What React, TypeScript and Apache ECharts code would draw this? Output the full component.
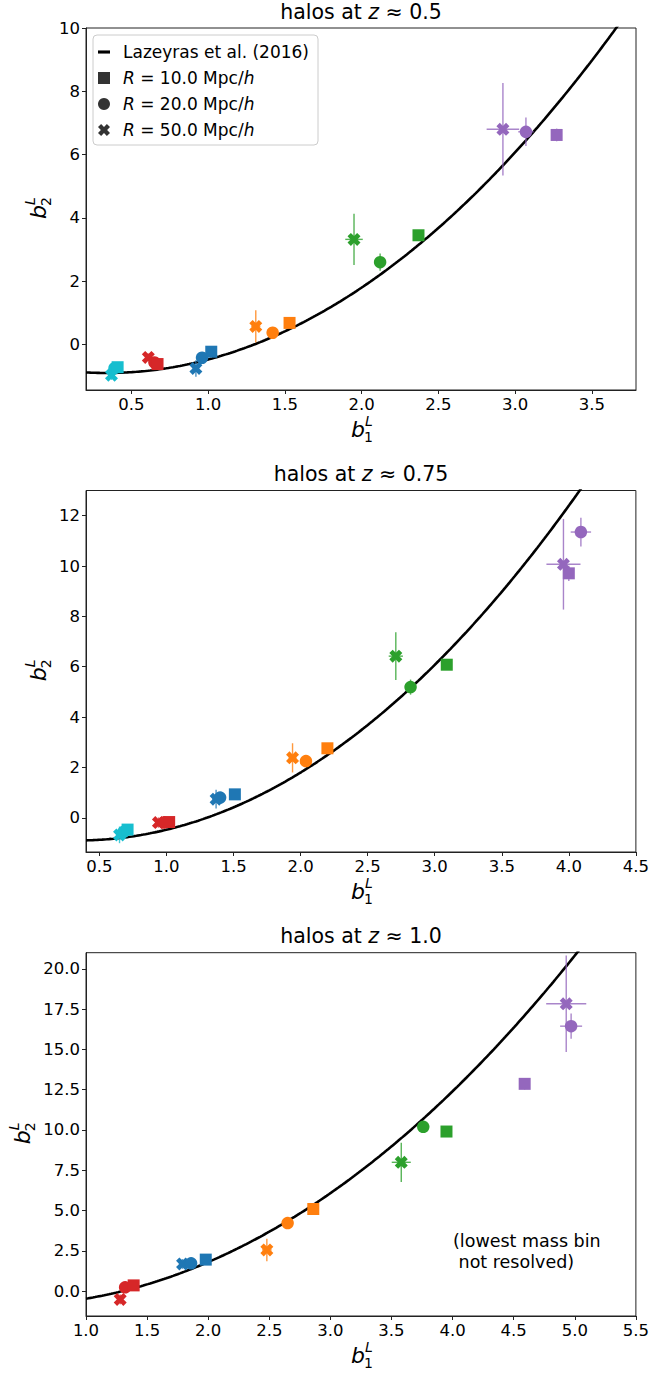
import React, { useEffect, useRef } from 'react';
import * as echarts from 'echarts';

const FONT = 'DejaVu Sans';
const BIN_COLORS = ['#17becf', '#d62728', '#1f77b4', '#ff7f0e', '#2ca02c', '#9467bd'];

// Lazeyras et al. (2016) fit coefficients: b2E = c0 + c1 b1E + c2 b1E^2 + c3 b1E^3
const LAZEYRAS_COEF = [0.412, -2.143, 0.929, 0.008];

// ---------- Panel 1: halos at z ~ 0.5 ----------
const P1_BINS = [0, 1, 2, 3, 4, 5];
const P1_R10_B1 = [0.41, 0.67, 1.02, 1.53, 2.37, 3.27];
const P1_R10_B2 = [-0.72, -0.62, -0.23, 0.68, 3.45, 6.62];
const P1_R10_XERR = [0.005, 0.005, 0.01, 0.01, 0.015, 0.02];
const P1_R10_YERR = [0.03, 0.03, 0.04, 0.06, 0.1, 0.2];
const P1_R20_B1 = [0.39, 0.65, 0.96, 1.42, 2.12, 3.07];
const P1_R20_B2 = [-0.75, -0.57, -0.42, 0.37, 2.6, 6.72];
const P1_R20_XERR = [0.01, 0.01, 0.01, 0.02, 0.02, 0.05];
const P1_R20_YERR = [0.05, 0.05, 0.08, 0.1, 0.27, 0.45];
const P1_R50_B1 = [0.37, 0.61, 0.92, 1.31, 1.95, 2.92];
const P1_R50_B2 = [-0.97, -0.41, -0.76, 0.57, 3.32, 6.8];
const P1_R50_XERR = [0.01, 0.02, 0.02, 0.03, 0.057, 0.106];
const P1_R50_YERR = [0.15, 0.12, 0.26, 0.51, 0.81, 1.46];
const P1_XRANGE = [0.204, 3.787];
const P1_YRANGE = [-1.44, 10];
const P1_XTICKS = [0.5, 1.0, 1.5, 2.0, 2.5, 3.0, 3.5];
const P1_YTICKS = [0, 2, 4, 6, 8, 10];

// ---------- Panel 2: halos at z ~ 0.75 ----------
const P2_BINS = [0, 1, 2, 3, 4, 5];
const P2_R10_B1 = [0.71, 1.02, 1.51, 2.2, 3.09, 4.0];
const P2_R10_B2 = [-0.47, -0.17, 0.93, 2.76, 6.08, 9.71];
const P2_R10_XERR = [0.005, 0.005, 0.01, 0.01, 0.015, 0.03];
const P2_R10_YERR = [0.04, 0.04, 0.05, 0.08, 0.15, 0.3];
const P2_R20_B1 = [0.68, 0.98, 1.4, 2.04, 2.82, 4.09];
const P2_R20_B2 = [-0.56, -0.19, 0.8, 2.25, 5.19, 11.35];
const P2_R20_XERR = [0.01, 0.01, 0.015, 0.02, 0.03, 0.076];
const P2_R20_YERR = [0.08, 0.06, 0.1, 0.15, 0.3, 0.57];
const P2_R50_B1 = [0.65, 0.94, 1.37, 1.94, 2.71, 3.96];
const P2_R50_B2 = [-0.68, -0.19, 0.74, 2.38, 6.42, 10.07];
const P2_R50_XERR = [0.02, 0.02, 0.03, 0.03, 0.053, 0.127];
const P2_R50_YERR = [0.33, 0.2, 0.37, 0.58, 0.95, 1.8];
const P2_XRANGE = [0.4, 4.5];
const P2_YRANGE = [-1.36, 13];
const P2_XTICKS = [0.5, 1.0, 1.5, 2.0, 2.5, 3.0, 3.5, 4.0, 4.5];
const P2_YTICKS = [0, 2, 4, 6, 8, 10, 12];

// ---------- Panel 3: halos at z ~ 1.0 (no lowest-mass bin) ----------
const P3_BINS = [1, 2, 3, 4, 5];
const P3_R10_B1 = [1.39, 1.98, 2.86, 3.95, 4.59];
const P3_R10_B2 = [0.35, 1.95, 5.09, 9.9, 12.86];
const P3_R10_XERR = [0.005, 0.01, 0.01, 0.02, 0.03];
const P3_R10_YERR = [0.05, 0.08, 0.12, 0.2, 0.35];
const P3_R20_B1 = [1.32, 1.86, 2.65, 3.76, 4.97];
const P3_R20_B2 = [0.23, 1.72, 4.22, 10.19, 16.44];
const P3_R20_XERR = [0.01, 0.01, 0.02, 0.03, 0.09];
const P3_R20_YERR = [0.1, 0.15, 0.2, 0.35, 0.78];
const P3_R50_B1 = [1.28, 1.79, 2.48, 3.58, 4.93];
const P3_R50_B2 = [-0.52, 1.68, 2.55, 7.99, 17.83];
const P3_R50_XERR = [0.02, 0.03, 0.04, 0.078, 0.164];
const P3_R50_YERR = [0.3, 0.3, 0.7, 1.22, 3.0];
const P3_XRANGE = [1.0, 5.5];
const P3_YRANGE = [-1.55, 21];
const P3_XTICKS = [1.0, 1.5, 2.0, 2.5, 3.0, 3.5, 4.0, 4.5, 5.0, 5.5];
const P3_YTICKS = [0, 2.5, 5, 7.5, 10, 12.5, 15, 17.5, 20];

const TITLES = ['0.5', '0.75', '1.0'];
const LEGEND_LABELS: Record<string, string> = {
  Lazeyras: 'Lazeyras et al. (2016)',
  R10: '{i|R} = 10.0 Mpc/{i|h}',
  R20: '{i|R} = 20.0 Mpc/{i|h}',
  R50: '{i|R} = 50.0 Mpc/{i|h}',
};

const X_SYMBOL =
  'path://M0,2.6L2.6,0L5,2.4L7.4,0L10,2.6L7.6,5L10,7.4L7.4,10L5,7.6L2.6,10L0,7.4L2.4,5Z';
const DASH_SYMBOL = 'path://M0,0L10,0L10,2.6L0,2.6Z';

// Lagrangian b2 from the Eulerian Lazeyras fit: b1E = b1L + 1, b2E = b2L + 8/21 b1L
function lazeyrasL(b1L: number): number {
  const b1E = b1L + 1;
  let b2E = 0;
  LAZEYRAS_COEF.forEach((c, k) => {
    b2E += c * Math.pow(b1E, k);
  });
  return b2E - (8 / 21) * b1L;
}

const PANELS = [
  {
    bins: P1_BINS,
    r10: [P1_R10_B1, P1_R10_B2, P1_R10_XERR, P1_R10_YERR],
    r20: [P1_R20_B1, P1_R20_B2, P1_R20_XERR, P1_R20_YERR],
    r50: [P1_R50_B1, P1_R50_B2, P1_R50_XERR, P1_R50_YERR],
    xr: P1_XRANGE, yr: P1_YRANGE, xt: P1_XTICKS, yt: P1_YTICKS, ydec: 0, ylabX: 38,
  },
  {
    bins: P2_BINS,
    r10: [P2_R10_B1, P2_R10_B2, P2_R10_XERR, P2_R10_YERR],
    r20: [P2_R20_B1, P2_R20_B2, P2_R20_XERR, P2_R20_YERR],
    r50: [P2_R50_B1, P2_R50_B2, P2_R50_XERR, P2_R50_YERR],
    xr: P2_XRANGE, yr: P2_YRANGE, xt: P2_XTICKS, yt: P2_YTICKS, ydec: 0, ylabX: 38,
  },
  {
    bins: P3_BINS,
    r10: [P3_R10_B1, P3_R10_B2, P3_R10_XERR, P3_R10_YERR],
    r20: [P3_R20_B1, P3_R20_B2, P3_R20_XERR, P3_R20_YERR],
    r50: [P3_R50_B1, P3_R50_B2, P3_R50_XERR, P3_R50_YERR],
    xr: P3_XRANGE, yr: P3_YRANGE, xt: P3_XTICKS, yt: P3_YTICKS, ydec: 1, ylabX: 22,
  },
];

// layout (pixels)
const GRID_LEFT = 86;
const GRID_WIDTH = 550;
const GRID_TOPS = [28, 490.5, 952.7];
const GRID_HEIGHTS = [362, 361.5, 363.3];

function bLabel(cx: number, cy: number, sub: string, rotated: boolean) {
  const main = { font: `italic 22px "${FONT}"`, fill: '#000' };
  const small = { font: `italic 14px "${FONT}"`, fill: '#000' };
  const smallUp = { font: `14px "${FONT}"`, fill: '#000' };
  return {
    type: 'group',
    x: cx,
    y: cy,
    rotation: rotated ? Math.PI / 2 : 0,
    children: [
      { type: 'text', x: -10, y: 0, style: { ...main, text: 'b', textAlign: 'left', textVerticalAlign: 'middle' } },
      { type: 'text', x: 4, y: -8, style: { ...small, text: 'L', textAlign: 'left', textVerticalAlign: 'middle' } },
      { type: 'text', x: 3, y: 8, style: { ...smallUp, text: sub, textAlign: 'left', textVerticalAlign: 'middle' } },
    ],
  };
}

export default function App() {
  const ref = useRef<HTMLDivElement>(null);

  useEffect(() => {
    if (!ref.current) return;
    const chart = echarts.init(ref.current, null, { renderer: 'svg' });

    const grids: any[] = [];
    const xAxes: any[] = [];
    const yAxes: any[] = [];
    const titles: any[] = [];
    const series: any[] = [];
    const graphics: any[] = [];

    PANELS.forEach((p, i) => {
      grids.push({
        left: GRID_LEFT,
        top: GRID_TOPS[i],
        width: GRID_WIDTH,
        height: GRID_HEIGHTS[i],
        show: true,
        borderColor: '#222',
        borderWidth: 1,
        backgroundColor: 'transparent',
      });
      xAxes.push({
        type: 'value',
        gridIndex: i,
        min: p.xr[0],
        max: p.xr[1],
        splitLine: { show: false },
        axisLine: { show: true, onZero: false, lineStyle: { color: '#222', width: 1 } },
        axisTick: { show: true, length: 4, lineStyle: { color: '#222' }, customValues: p.xt },
        axisLabel: {
          customValues: p.xt,
          formatter: (v: number) => v.toFixed(1),
          color: '#000',
          fontFamily: FONT,
          fontSize: 16.5,
          margin: 6,
        },
      });
      yAxes.push({
        type: 'value',
        gridIndex: i,
        min: p.yr[0],
        max: p.yr[1],
        splitLine: { show: false },
        axisLine: { show: true, onZero: false, lineStyle: { color: '#222', width: 1 } },
        axisTick: { show: true, length: 4, lineStyle: { color: '#222' }, customValues: p.yt },
        axisLabel: {
          customValues: p.yt,
          formatter: (v: number) => v.toFixed(p.ydec),
          color: '#000',
          fontFamily: FONT,
          fontSize: 16.5,
          margin: 6,
        },
      });
      titles.push({
        text: `halos at {i|z} ≈ ${TITLES[i]}`,
        left: GRID_LEFT + GRID_WIDTH / 2,
        textAlign: 'center',
        top: GRID_TOPS[i] - 27,
        padding: 0,
        textStyle: {
          fontFamily: FONT,
          fontSize: 20.5,
          fontWeight: 'normal',
          color: '#000',
          rich: { i: { fontFamily: FONT, fontSize: 20.5, fontStyle: 'italic', color: '#000' } },
        },
      });

      // Lazeyras curve
      const curve: number[][] = [];
      const n = 240;
      for (let k = 0; k <= n; k++) {
        const x = p.xr[0] + ((p.xr[1] - p.xr[0]) * k) / n;
        curve.push([x, lazeyrasL(x)]);
      }
      series.push({
        type: 'line',
        name: 'Lazeyras',
        xAxisIndex: i,
        yAxisIndex: i,
        data: curve,
        showSymbol: false,
        symbol: 'none',
        clip: true,
        lineStyle: { color: '#000', width: 2.6 },
        itemStyle: { color: '#000' },
        z: 2,
        silent: true,
      });

      // error bars
      const errData: number[][] = [];
      [p.r10, p.r20, p.r50].forEach((set) => {
        p.bins.forEach((bin, j) => {
          errData.push([set[0][j], set[1][j], set[2][j], set[3][j], bin]);
        });
      });
      series.push({
        type: 'custom',
        name: `err${i}`,
        xAxisIndex: i,
        yAxisIndex: i,
        data: errData,
        encode: { x: 0, y: 1 },
        clip: true,
        z: 3,
        silent: true,
        renderItem: (params: any, api: any) => {
          const x = api.value(0);
          const y = api.value(1);
          const xe = api.value(2);
          const ye = api.value(3);
          const c = BIN_COLORS[api.value(4)];
          const l = api.coord([x - xe, y]);
          const r = api.coord([x + xe, y]);
          const t = api.coord([x, y + ye]);
          const b = api.coord([x, y - ye]);
          const style = { stroke: c, lineWidth: 1.4, opacity: 0.8 };
          return {
            type: 'group',
            children: [
              { type: 'line', shape: { x1: l[0], y1: l[1], x2: r[0], y2: r[1] }, style },
              { type: 'line', shape: { x1: t[0], y1: t[1], x2: b[0], y2: b[1] }, style },
            ],
          };
        },
      });

      const mk = (set: number[][], symbol: string, size: number, nm: string) => ({
        type: 'scatter',
        name: nm,
        xAxisIndex: i,
        yAxisIndex: i,
        symbol,
        symbolSize: size,
        z: 4,
        silent: true,
        data: p.bins.map((bin, j) => ({
          value: [set[0][j], set[1][j]],
          itemStyle: { color: BIN_COLORS[bin], opacity: 1 },
        })),
      });
      series.push(mk(p.r50, X_SYMBOL, 13, `x${i}`));
      series.push(mk(p.r20, 'circle', 12.5, `c${i}`));
      series.push(mk(p.r10, 'rect', 12, `s${i}`));

      const bottom = GRID_TOPS[i] + GRID_HEIGHTS[i];
      graphics.push(bLabel(GRID_LEFT + GRID_WIDTH / 2, bottom + 39, '1', false));
      graphics.push(bLabel(p.ylabX, GRID_TOPS[i] + GRID_HEIGHTS[i] / 2, '2', true));
    });

    // legend dummy series (black markers)
    series.push({ type: 'scatter', name: 'R10', xAxisIndex: 0, yAxisIndex: 0, data: [], symbol: 'rect', itemStyle: { color: '#000' } });
    series.push({ type: 'scatter', name: 'R20', xAxisIndex: 0, yAxisIndex: 0, data: [], symbol: 'circle', itemStyle: { color: '#000' } });
    series.push({ type: 'scatter', name: 'R50', xAxisIndex: 0, yAxisIndex: 0, data: [], symbol: X_SYMBOL, itemStyle: { color: '#000' } });

    graphics.push({
      type: 'text',
      left: 453,
      top: 1230,
      style: {
        text: '(lowest mass bin\n not resolved)',
        font: `17.5px "${FONT}"`,
        fill: '#000',
        lineHeight: 21,
      },
    });

    chart.setOption({
      animation: false,
      backgroundColor: '#fff',
      title: titles,
      grid: grids,
      xAxis: xAxes,
      yAxis: yAxes,
      legend: {
        show: true,
        orient: 'vertical',
        left: 93,
        top: 35,
        padding: [7, 9, 5, 5],
        itemGap: 6,
        itemWidth: 12,
        itemHeight: 12,
        backgroundColor: 'rgba(255,255,255,0.8)',
        borderColor: '#cccccc',
        borderWidth: 1,
        borderRadius: 4,
        selectedMode: false,
        data: [
          { name: 'Lazeyras', icon: DASH_SYMBOL, itemStyle: { color: '#000' } },
          { name: 'R10', icon: 'rect', itemStyle: { color: '#000' } },
          { name: 'R20', icon: 'circle', itemStyle: { color: '#000' } },
          { name: 'R50', icon: X_SYMBOL, itemStyle: { color: '#000' } },
        ],
        formatter: (name: string) => LEGEND_LABELS[name] || name,
        textStyle: {
          fontFamily: FONT,
          fontSize: 17,
          color: '#000',
          lineHeight: 20,
          padding: [0, 0, 0, 8],
          rich: { i: { fontFamily: FONT, fontSize: 17, fontStyle: 'italic', color: '#000' } },
        },
      },
      graphic: graphics,
      series,
    });

    return () => chart.dispose();
  }, []);

  return (
    <div
      ref={ref}
      style={{ position: 'absolute', left: 0, top: 0, width: 652, height: 1374, background: '#fff' }}
    />
  );
}
